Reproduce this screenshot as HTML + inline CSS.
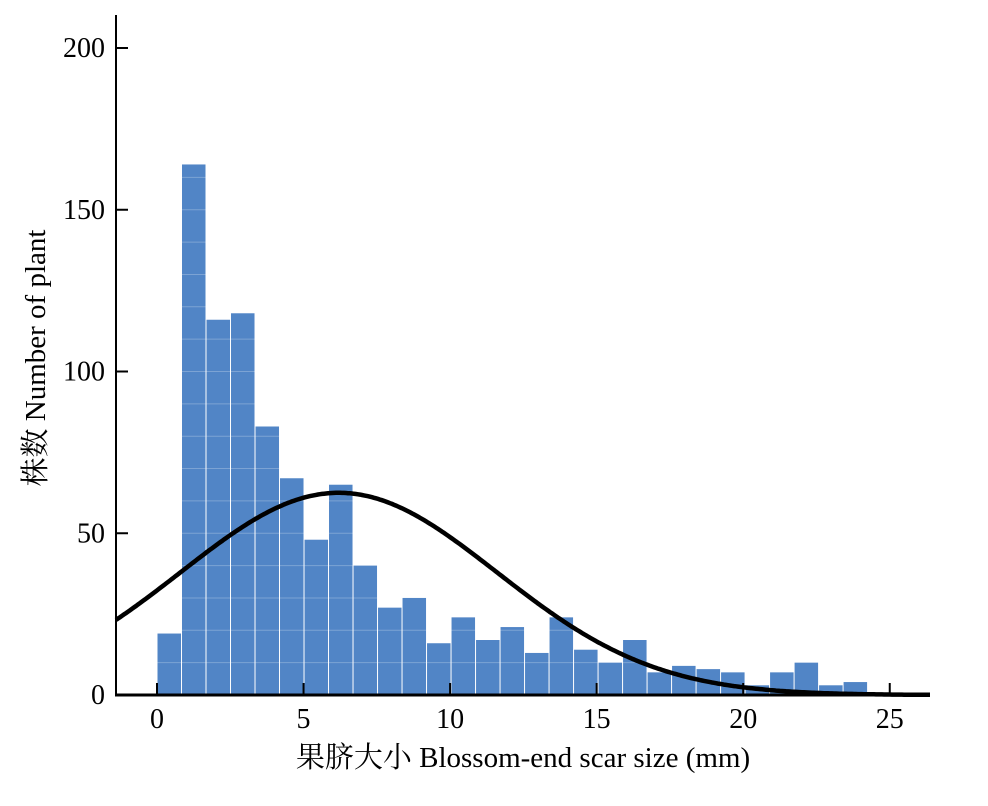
<!DOCTYPE html>
<html><head><meta charset="utf-8">
<style>
html,body{margin:0;padding:0;background:#fff;}
svg text{font-family:"Liberation Serif","Noto Serif CJK SC",serif;fill:#000;}
</style></head>
<body>
<svg id="chart" width="988" height="801" viewBox="0 0 988 801" xmlns="http://www.w3.org/2000/svg">
<g id="bars"></g>
<g id="grid"></g>
<path id="curve" fill="none" stroke="#000" stroke-width="4.5"/>
<g id="axes"></g>
<text x="523" y="767" font-size="29" text-anchor="middle">果脐大小 Blossom-end scar size (mm)</text>
<text x="0" y="0" font-size="29" text-anchor="middle" transform="translate(45,358) rotate(-90)">株数 Number of plant</text>
</svg>
<script>
const counts = [19,164,116,118,83,67,48,65,40,27,30,16,24,17,21,13,24,14,10,17,7,9,8,7,3,7,10,3,4];
const binStart = 0;
const binWidth = 0.836;
const xTicks = [0,5,10,15,20,25];
const yTicks = [0,50,100,150,200];
const curveMean = 6.2;
const curveSd = 5.4;
const curvePeak = 62.5;

const NS = "http://www.w3.org/2000/svg";
const X0 = 157, XPU = 29.31;
const Y0 = 695, YPU = 3.235;
const xs = v => X0 + v * XPU;
const ys = v => Y0 - v * YPU;
function mk(tag, attrs, parent){ const e = document.createElementNS(NS, tag); for (const k in attrs) e.setAttribute(k, attrs[k]); parent.appendChild(e); return e; }

const bars = document.getElementById('bars');
const grid = document.getElementById('grid');
counts.forEach((c, i) => {
  const x1 = xs(binStart + i * binWidth), x2 = xs(binStart + (i + 1) * binWidth);
  const r = mk('rect', {x: x1 + 0.5, y: ys(c), width: x2 - x1 - 1, height: Y0 - ys(c), fill: '#5185c6'}, bars);
  
  
  for (let v = 10; v < c; v += 10) {
    const l = mk('line', {x1: x1 + 0.5, x2: x2 - 0.5, y1: ys(v), y2: ys(v), stroke: '#ffffff', 'stroke-opacity': 0.25, 'stroke-width': 1}, grid);
    
    
  }
});

let d = '';
for (let px = 116; px <= 930; px += 2) {
  const v = (px - X0) / XPU;
  const y = curvePeak * Math.exp(-Math.pow(v - curveMean, 2) / (2 * curveSd * curveSd));
  d += (d ? 'L' : 'M') + px + ',' + ys(y).toFixed(1);
}
document.getElementById('curve').setAttribute('d', d);

const axes = document.getElementById('axes');
const ya = mk('line', {x1: 116, x2: 116, y1: 15, y2: 696, stroke: '#000', 'stroke-width': 2}, axes);


const xa = mk('line', {x1: 115, x2: 930, y1: 695, y2: 695, stroke: '#000', 'stroke-width': 3}, axes);


yTicks.forEach(t => {
  const l = mk('line', {x1: 116, x2: 128, y1: ys(t), y2: ys(t), stroke: '#000', 'stroke-width': 2}, axes);
  
  
  const tx = mk('text', {x: 105, y: ys(t) + 9, 'font-size': 28, 'text-anchor': 'end'}, axes);
  tx.textContent = t;
  
  
});
xTicks.forEach(t => {
  const l = mk('line', {x1: xs(t), x2: xs(t), y1: 683, y2: 695, stroke: '#000', 'stroke-width': 2}, axes);
  
  
  const tx = mk('text', {x: xs(t), y: 728, 'font-size': 28, 'text-anchor': 'middle'}, axes);
  tx.textContent = t;
  
  
});
</script>
</body></html>
